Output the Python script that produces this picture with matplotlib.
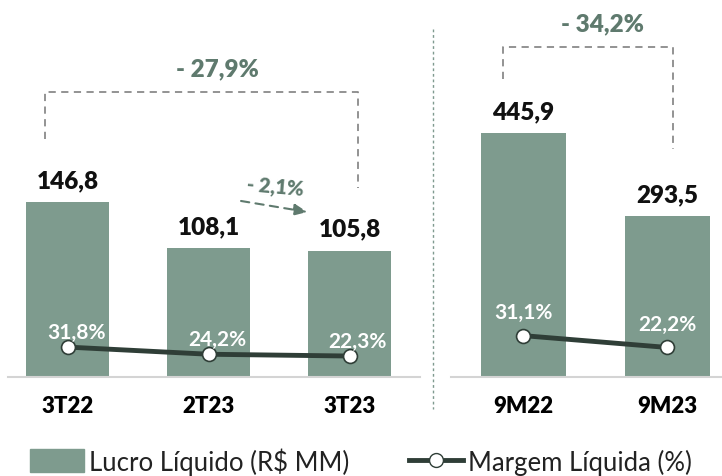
import numpy as np
import matplotlib.pyplot as plt
from matplotlib.patches import Patch
from matplotlib.lines import Line2D

plt.rcParams['font.family'] = ['Lato', 'DejaVu Sans']

# data
tri_labels = ['3T22', '2T23', '3T23']
tri_lucro = [146.8, 108.1, 105.8]
tri_margem = [31.8, 24.2, 22.3]

acc_labels = ['9M22', '9M23']
acc_lucro = [445.9, 293.5]
acc_margem = [31.1, 22.2]

var_tri_year = '- 27,9%'
var_tri_qoq = '- 2,1%'
var_acc = '- 34,2%'

bar_c = '#7e9b8e'
line_c = '#2f3e37'
note_c = '#5f7a6e'
dash_c = '#8a8a8a'
base_c = '#d4d4d4'

W, H = 722, 477
fig = plt.figure(figsize=(W / 100, H / 100), dpi=100)


def fmt(v, pct=False):
    s = f'{v:.1f}'.replace('.', ',')
    return s + '%' if pct else s


def make_axes(x0, x1, xlim, ylim, ylim2):
    ax = fig.add_axes([x0 / W, 99 / H, (x1 - x0) / W, 378 / H])
    ax.set_xlim(*xlim)
    ax.set_ylim(*ylim)
    for s in ['top', 'left', 'right']:
        ax.spines[s].set_visible(False)
    ax.spines['bottom'].set_color(base_c)
    ax.spines['bottom'].set_linewidth(1.5)
    ax.set_yticks([])
    ax.tick_params(axis='x', length=0, pad=13)
    ax2 = ax.twinx()
    ax2.set_ylim(*ylim2)
    ax2.axis('off')
    return ax, ax2


def draw(ax, ax2, labels, lucro, margem, lab_off):
    x = np.arange(len(labels))
    ax.bar(x, lucro, width=0.59, color=bar_c)
    ax.set_xticks(x, labels, fontsize=16, fontweight='heavy')
    for xi, v in zip(x, lucro):
        ax.annotate(fmt(v), (xi, v), xytext=(0, 8), textcoords='offset points',
                    ha='center', va='bottom', fontsize=17.5, fontweight='heavy',
                    color='#111111')
    ax2.plot(x, margem, color=line_c, lw=3.5, marker='o', ms=10,
             mfc='white', mec=line_c, mew=1.2, zorder=5)
    for xi, m in zip(x, margem):
        ax2.annotate(fmt(m, True), (xi, m), xytext=lab_off, textcoords='offset points',
                     ha='center', va='center', fontsize=15, fontweight='bold',
                     color='white', zorder=6)


# left panel: quarters
axL, axL2 = make_axes(8, 420, (-0.425, 2.5), (0, 317), (0, 402))
draw(axL, axL2, tri_labels, tri_lucro, tri_margem, (6, 11))

# right panel: accumulated
axR, axR2 = make_axes(451, 722, (-0.5, 1.38), (0, 691), (0, 284))
draw(axR, axR2, acc_labels, acc_lucro, acc_margem, (0, 17))

# bracket left (3T22 -> 3T23)
top = max(tri_lucro) + 92
axL.plot([-0.16, -0.16, 2.06, 2.06], [tri_lucro[0] + 53, top, top, tri_lucro[2] + 53],
         color=dash_c, lw=1.3, ls=(0, (4, 3)), clip_on=False)
axL.text(1.06, top + 20, var_tri_year, ha='center', va='center', fontsize=17.5,
         fontweight='heavy', color=note_c)

# small arrow (2T23 -> 3T23)
axL.annotate('', xy=(1.72, 138), xytext=(1.21, 148),
             arrowprops=dict(arrowstyle='-|>,head_length=0.8,head_width=0.35',
                             color=note_c, lw=1.5, ls=(0, (4, 3))))
axL.text(1.47, 160, var_tri_qoq, ha='center', va='center', fontsize=14.5,
         fontweight='heavy', color=note_c, rotation=-5)

# bracket right (9M22 -> 9M23)
topR = max(acc_lucro) + 158
axR.plot([-0.14, -0.14, 1.04, 1.04], [acc_lucro[0] + 99, topR, topR, acc_lucro[1] + 123],
         color=dash_c, lw=1.3, ls=(0, (4, 3)), clip_on=False)
axR.text(0.55, topR + 42, var_acc, ha='center', va='center', fontsize=17.5,
         fontweight='heavy', color=note_c)

# separator
fig.add_artist(Line2D([433 / W, 433 / W], [1 - 30 / H, 1 - 410 / H], color='#7f9a8f',
                      lw=1, ls=(0, (2, 2))))

handles = [Patch(color=bar_c, label='Lucro Líquido (R$ MM)'),
           Line2D([], [], color=line_c, lw=3.5, marker='o', ms=10, mfc='white',
                  mec=line_c, label='Margem Líquida (%)')]
fig.legend(handles=handles, loc='center', bbox_to_anchor=(0.5, 1 - 462 / H), ncol=2,
           frameon=False, fontsize=18.5, handlelength=2.1, handleheight=1.0,
           handletextpad=0.2, columnspacing=2.3, labelcolor='#222222')

fig.savefig('out.png', dpi=100)
